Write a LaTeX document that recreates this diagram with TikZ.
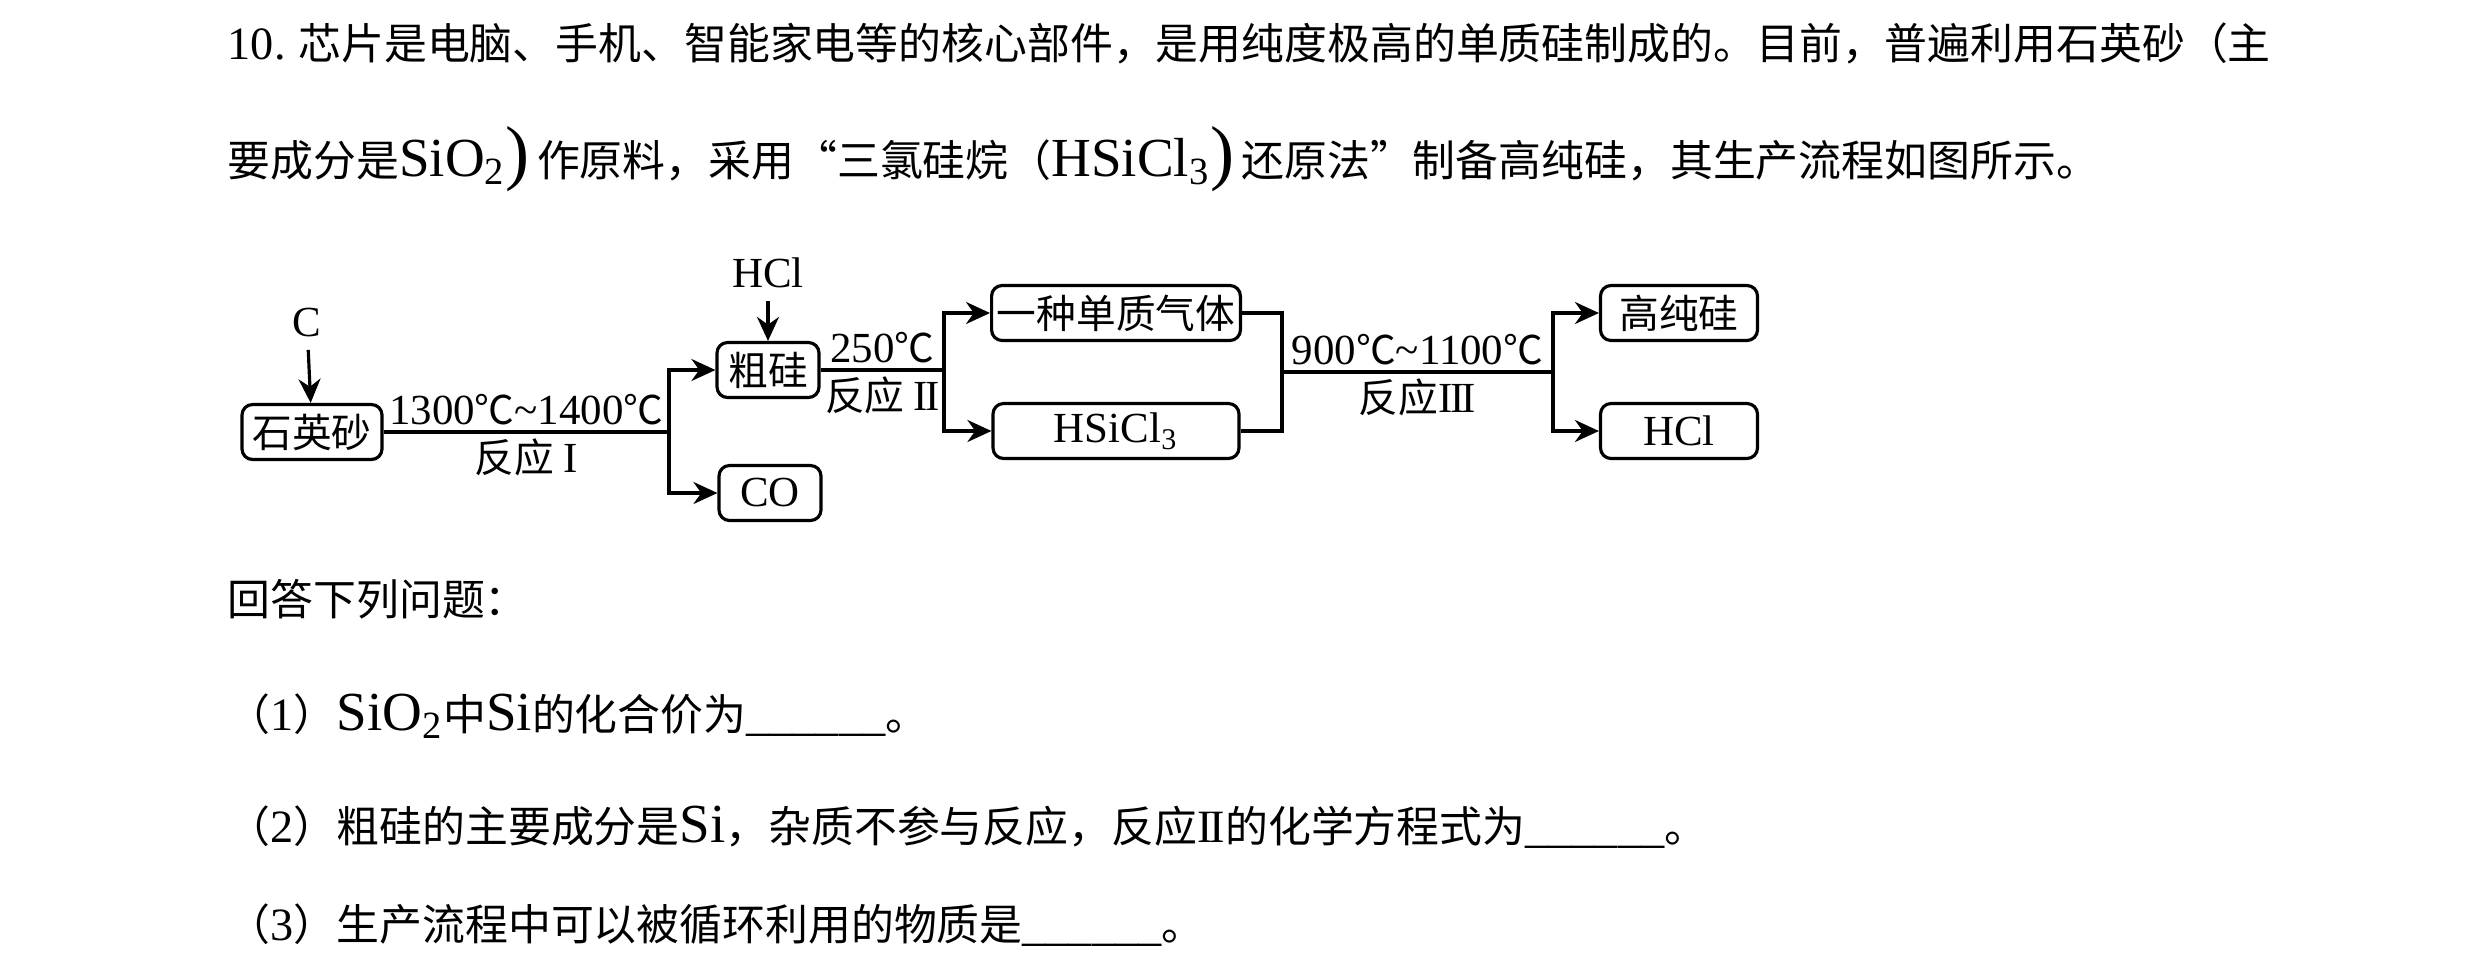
\documentclass[tikz,border=0pt]{standalone}
\usepackage{fontspec}
\setmainfont{Noto Sans CJK SC}
\newfontfamily\latin[Scale=1.08]{Liberation Serif}
\newcommand{\la}[1]{{\latin #1}}
\newcommand{\bigla}[1]{{\latin\fontsize{14.5}{15}\selectfont #1}}
\newcommand{\tallparen}{{\latin\fontsize{19}{19}\selectfont )}\,}
\newcommand{\blank}{\la{\_\_\_\_\_\_}}
\newcommand{\rtwo}{\la{I\kern-0.06em I}}
\newcommand{\rthree}{\la{I\kern-0.06em I\kern-0.06em I}}
\usetikzlibrary{arrows.meta}
\usetikzlibrary{positioning}

\tikzset{
  box/.style={draw, line width=0.9pt, rounded corners=3pt, minimum height=0.55cm, inner sep=1.5pt},
  link/.style={line width=0.9pt},
  para/.style={anchor=west, inner sep=0pt, font=\fontsize{12.2}{14}\selectfont},
  cond/.style={inner sep=1.5pt},
}

\begin{document}
\begin{tikzpicture}[>={Stealth[length=2.4mm,width=2.2mm]}, font=\fontsize{11.3}{13}\selectfont]

\useasboundingbox (0,0) rectangle (24.8,-9.64);

% question text
\node[para] (lineone) at (2.27,-0.43) {\la{10.} 芯片是电脑、手机、智能家电等的核心部件，是用纯度极高的单质硅制成的。目前，普遍利用石英砂（主};
\node[para] (linetwo) at (2.27,-1.59) {要成分是\bigla{SiO\textsubscript{2}}\tallparen 作原料，采用“三氯硅烷（\bigla{HSiCl\textsubscript{3}}\tallparen 还原法”制备高纯硅，其生产流程如图所示。};

% flow chart
\node[box, minimum width=1.40cm] (quartz) at (3.12,-4.32) {石英砂};
\node (carbon) at (3.07,-3.23) {\la{C}};
\node[box, minimum width=1.02cm] (crude) at (7.68,-3.70) {粗硅};
\node (hclin) at (7.68,-2.73) {\la{HCl}};
\node[box, minimum width=1.02cm] (co) at (7.70,-4.93) {\la{CO}};
\node[box, minimum width=2.46cm] (gas) at (11.16,-3.13) {一种单质气体};
\node[box, minimum width=2.46cm] (hsicl) at (11.16,-4.31) {\la{HSiCl\textsubscript{3}}};
\node[box, minimum width=1.57cm] (pure) at (16.79,-3.13) {高纯硅};
\node[box, minimum width=1.57cm] (hclout) at (16.79,-4.31) {\la{HCl}};

\coordinate (jone) at (6.69,-4.32);
\coordinate (jtwo) at (9.44,-3.70);
\coordinate (merge) at (12.82,-3.72);
\coordinate (jthree) at (15.53,-3.72);

\draw[link, ->] (carbon) -- (quartz);
\draw[link] (quartz) -- (jone)
  node[cond, midway, above] {\la{1300}℃\la{\textasciitilde 1400}℃}
  node[cond, midway, below] {反应 \la{I}};
\draw[link, ->] (jone) |- (crude.west);
\draw[link, ->] (jone) |- (co.west);

\draw[link, ->] (hclin) -- (crude);
\draw[link] (crude) -- (jtwo)
  node[cond, midway, above] {\la{250}℃}
  node[cond, midway, below] {反应 \rtwo};
\draw[link, ->] (jtwo) |- (gas.west);
\draw[link, ->] (jtwo) |- (hsicl.west);

\draw[link] (gas.east) -| (merge) |- (hsicl.east);
\draw[link] (merge) -- (jthree)
  node[cond, midway, above] {\la{900}℃\la{\textasciitilde 1100}℃}
  node[cond, midway, below] {反应\rthree};
\draw[link, ->] (jthree) |- (pure.west);
\draw[link, ->] (jthree) |- (hclout.west);

% questions
\node[para] (ask) at (2.27,-5.99) {回答下列问题：};
\node[para] (qone) at (2.27,-7.16) {（\la{1}）\bigla{SiO\textsubscript{2}}中\bigla{Si}的化合价为\blank。};
\node[para] (qtwo) at (2.27,-8.27) {（\la{2}）粗硅的主要成分是\bigla{Si}，杂质不参与反应，反应\rtwo 的化学方程式为\blank。};
\node[para] (qthree) at (2.27,-9.25) {（\la{3}）生产流程中可以被循环利用的物质是\blank。};

\end{tikzpicture}
\end{document}
